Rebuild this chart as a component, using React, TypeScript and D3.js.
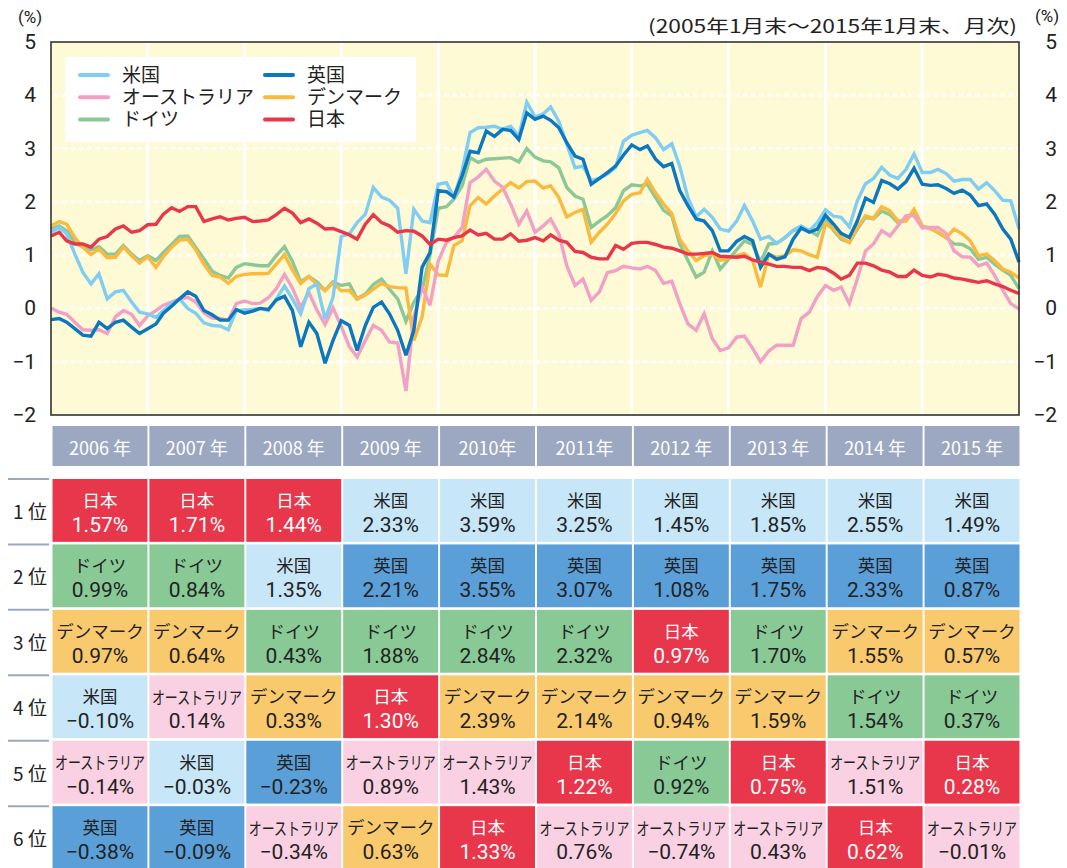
import React, { useEffect } from "react";
import * as d3 from "d3";

// monthly, 2005-01 .. 2015-01 (121 points)
const months = d3.timeMonth.range(new Date(2005, 0, 1), new Date(2015, 0, 2));

const usa = [
  1.43, 1.52, 1.40, 1.02, 0.68, 0.46, 0.65, 0.18, 0.31, 0.34, 0.12, -0.07,
  -0.10, -0.17, -0.04, 0.09, 0.18, 0.00, -0.09, -0.27, -0.32, -0.33, -0.40, -0.04,
  -0.03, -0.02, 0.00, -0.04, 0.18, 0.42, 0.18, -0.10, 0.37, 0.46, -0.20, 0.21,
  1.35, 1.40, 1.61, 1.77, 2.27, 2.09, 2.03, 1.88, 0.65, 1.86, 1.64, 1.61,
  2.33, 2.36, 2.08, 2.58, 3.30, 3.39, 3.40, 3.42, 3.36, 3.42, 3.23, 3.87,
  3.59, 3.65, 3.78, 3.51, 3.08, 2.64, 2.67, 2.40, 2.44, 2.52, 2.65, 3.14,
  3.25, 3.30, 3.34, 3.20, 2.98, 3.09, 2.67, 2.08, 1.72, 1.86, 1.71, 1.49,
  1.45, 1.64, 1.93, 1.64, 1.30, 1.35, 1.22, 1.33, 1.47, 1.55, 1.46, 1.61,
  1.85, 1.73, 1.71, 1.53, 2.02, 2.34, 2.44, 2.65, 2.50, 2.44, 2.61, 2.90,
  2.55, 2.55, 2.61, 2.53, 2.39, 2.42, 2.42, 2.24, 2.36, 2.21, 2.03, 2.02,
  1.49,
];
const uk = [
  -0.21, -0.19, -0.26, -0.38, -0.50, -0.52, -0.26, -0.38, -0.26, -0.22, -0.35, -0.47,
  -0.38, -0.29, -0.09, 0.04, 0.18, 0.31, 0.23, -0.04, -0.12, -0.22, -0.22, -0.02,
  -0.09, -0.05, 0.00, -0.02, 0.16, 0.23, -0.04, -0.72, -0.26, -0.47, -1.03, -0.60,
  -0.23, -0.32, -0.79, -0.32, 0.02, 0.12, -0.10, -0.41, -0.88, -0.41, 0.77, 1.05,
  2.21, 2.19, 2.09, 2.49, 2.95, 2.92, 3.33, 3.23, 3.36, 3.34, 3.17, 3.67,
  3.55, 3.61, 3.53, 3.39, 3.11, 2.86, 2.80, 2.33, 2.44, 2.55, 2.67, 2.88,
  3.07, 2.98, 3.05, 2.80, 2.66, 2.72, 2.21, 1.93, 1.68, 1.64, 1.46, 1.08,
  1.08, 1.26, 1.35, 1.27, 0.77, 1.02, 0.92, 0.97, 1.30, 1.51, 1.43, 1.49,
  1.75, 1.58, 1.41, 1.33, 1.64, 2.07, 1.99, 2.40, 2.34, 2.24, 2.38, 2.63,
  2.33, 2.31, 2.32, 2.25, 2.16, 2.22, 2.13, 1.93, 1.96, 1.77, 1.49, 1.30,
  0.87,
];
const australia = [
  0.01, -0.07, -0.11, -0.26, -0.40, -0.41, -0.40, -0.47, -0.16, -0.04, -0.11, -0.32,
  -0.14, -0.04, 0.06, 0.12, 0.18, 0.21, 0.12, -0.08, -0.18, -0.19, -0.22, 0.09,
  0.14, 0.09, 0.10, 0.20, 0.37, 0.64, 0.38, 0.02, 0.30, -0.03, -0.30, 0.01,
  -0.34, -0.72, -0.91, -0.60, -0.32, -0.41, -0.63, -0.65, -1.55, -0.16, 0.40, 0.06,
  0.89, 1.24, 1.33, 1.52, 2.36, 2.47, 2.61, 2.39, 2.27, 1.96, 1.58, 1.83,
  1.43, 1.55, 1.68, 1.40, 0.80, 0.43, 0.55, 0.15, 0.31, 0.67, 0.71, 0.79,
  0.76, 0.74, 0.79, 0.71, 0.47, 0.51, 0.09, -0.29, -0.41, -0.10, -0.57, -0.79,
  -0.74, -0.54, -0.52, -0.75, -1.00, -0.80, -0.69, -0.69, -0.69, -0.19, -0.07, 0.22,
  0.43, 0.34, 0.40, 0.09, 0.55, 1.08, 1.21, 1.46, 1.36, 1.55, 1.74, 1.74,
  1.51, 1.52, 1.52, 1.41, 1.08, 0.97, 0.96, 0.80, 0.85, 0.62, 0.34, 0.09,
  -0.01,
];
const denmark = [
  1.55, 1.63, 1.58, 1.33, 1.15, 1.01, 1.12, 0.95, 0.96, 1.15, 0.99, 0.85,
  0.97, 0.77, 0.97, 1.15, 1.28, 1.30, 1.10, 0.83, 0.62, 0.59, 0.47, 0.60,
  0.64, 0.65, 0.65, 0.66, 0.83, 1.01, 0.72, 0.47, 0.60, 0.45, 0.33, 0.48,
  0.33, 0.34, 0.17, 0.25, 0.36, 0.47, 0.41, 0.39, 0.38, -0.60, -0.16, 0.83,
  0.63, 0.62, 1.18, 1.27, 1.93, 2.08, 1.96, 2.11, 2.24, 2.36, 2.26, 2.38,
  2.39, 2.26, 2.30, 2.08, 1.72, 1.80, 1.86, 1.24, 1.43, 1.58, 1.78, 2.02,
  2.14, 2.17, 2.42, 2.17, 1.96, 1.78, 1.30, 1.08, 0.90, 0.99, 1.02, 0.90,
  0.94, 0.99, 1.03, 0.90, 0.40, 1.02, 0.96, 0.99, 1.10, 1.08, 1.01, 0.96,
  1.59, 1.49, 1.33, 1.24, 1.52, 1.74, 1.69, 1.91, 1.83, 1.64, 1.64, 1.86,
  1.55, 1.49, 1.43, 1.33, 1.49, 1.40, 1.27, 0.99, 1.02, 0.90, 0.74, 0.68,
  0.57,
];
const germany = [
  1.49, 1.55, 1.46, 1.24, 1.15, 1.10, 1.16, 1.02, 1.02, 1.18, 1.02, 0.90,
  0.99, 0.90, 1.05, 1.20, 1.35, 1.36, 1.15, 0.93, 0.70, 0.62, 0.57, 0.77,
  0.84, 0.82, 0.80, 0.80, 0.99, 1.16, 0.88, 0.50, 0.60, 0.50, 0.34, 0.50,
  0.43, 0.46, 0.18, 0.27, 0.45, 0.55, 0.36, 0.18, -0.24, 0.12, 0.35, 1.00,
  1.88, 1.91, 2.05, 2.30, 2.83, 2.74, 2.80, 2.81, 2.82, 2.83, 2.75, 3.00,
  2.84, 2.77, 2.75, 2.64, 2.27, 2.11, 2.05, 1.52, 1.64, 1.74, 1.89, 2.21,
  2.32, 2.30, 2.33, 2.08, 1.84, 1.74, 1.21, 0.90, 0.59, 0.68, 1.08, 0.74,
  0.92, 1.10, 1.27, 1.20, 0.87, 1.21, 1.22, 1.33, 1.46, 1.52, 1.46, 1.37,
  1.70, 1.46, 1.30, 1.24, 1.49, 1.71, 1.68, 1.83, 1.76, 1.61, 1.66, 1.82,
  1.54, 1.51, 1.43, 1.33, 1.21, 1.20, 1.12, 0.92, 0.96, 0.83, 0.72, 0.62,
  0.37,
];
const japan = [
  1.36, 1.43, 1.27, 1.21, 1.21, 1.15, 1.30, 1.35, 1.49, 1.55, 1.43, 1.46,
  1.57, 1.58, 1.77, 1.89, 1.82, 1.91, 1.91, 1.63, 1.68, 1.72, 1.66, 1.69,
  1.71, 1.63, 1.64, 1.66, 1.76, 1.88, 1.79, 1.61, 1.68, 1.60, 1.49, 1.50,
  1.44, 1.38, 1.30, 1.58, 1.76, 1.61, 1.55, 1.43, 1.46, 1.45, 1.36, 1.20,
  1.30, 1.28, 1.33, 1.36, 1.47, 1.38, 1.41, 1.30, 1.30, 1.40, 1.26, 1.28,
  1.33, 1.27, 1.38, 1.28, 1.24, 1.07, 1.05, 0.96, 0.93, 0.93, 1.18, 1.11,
  1.22, 1.24, 1.24, 1.20, 1.15, 1.13, 1.08, 1.02, 1.02, 1.03, 1.05, 0.98,
  0.97, 0.96, 0.98, 0.91, 0.87, 0.83, 0.79, 0.79, 0.77, 0.77, 0.71, 0.77,
  0.75, 0.66, 0.55, 0.62, 0.85, 0.85, 0.80, 0.72, 0.68, 0.60, 0.60, 0.72,
  0.62, 0.59, 0.64, 0.62, 0.57, 0.55, 0.52, 0.49, 0.52, 0.46, 0.41, 0.34,
  0.28,
];

const yTicks = [-2, -1, 0, 1, 2, 3, 4, 5];

// legend order (2 columns)
const legendItems = ["米国", "英国", "オーストラリア", "デンマーク", "ドイツ", "日本"];

// table
const yearLabels = ["2006 年", "2007 年", "2008 年", "2009 年", "2010年", "2011年", "2012 年", "2013 年", "2014 年", "2015 年"];
const rankLabels = ["1 位", "2 位", "3 位", "4 位", "5 位", "6 位"];
const rankNames = [
  ["日本", "日本", "日本", "米国", "米国", "米国", "米国", "米国", "米国", "米国"],
  ["ドイツ", "ドイツ", "米国", "英国", "英国", "英国", "英国", "英国", "英国", "英国"],
  ["デンマーク", "デンマーク", "ドイツ", "ドイツ", "ドイツ", "ドイツ", "日本", "ドイツ", "デンマーク", "デンマーク"],
  ["米国", "オーストラリア", "デンマーク", "日本", "デンマーク", "デンマーク", "デンマーク", "デンマーク", "ドイツ", "ドイツ"],
  ["オーストラリア", "米国", "英国", "オーストラリア", "オーストラリア", "日本", "ドイツ", "日本", "オーストラリア", "日本"],
  ["英国", "英国", "オーストラリア", "デンマーク", "日本", "オーストラリア", "オーストラリア", "オーストラリア", "日本", "オーストラリア"],
];
const rankValues = [
  [1.57, 1.71, 1.44, 2.33, 3.59, 3.25, 1.45, 1.85, 2.55, 1.49],
  [0.99, 0.84, 1.35, 2.21, 3.55, 3.07, 1.08, 1.75, 2.33, 0.87],
  [0.97, 0.64, 0.43, 1.88, 2.84, 2.32, 0.97, 1.70, 1.55, 0.57],
  [-0.10, 0.14, 0.33, 1.30, 2.39, 2.14, 0.94, 1.59, 1.54, 0.37],
  [-0.14, -0.03, -0.23, 0.89, 1.43, 1.22, 0.92, 0.75, 1.51, 0.28],
  [-0.38, -0.09, -0.34, 0.63, 1.33, 0.76, -0.74, 0.43, 0.62, -0.01],
];

const lineColor: Record<string, string> = {
  米国: "#7fcdf3",
  英国: "#0a77bf",
  オーストラリア: "#f2a0c6",
  デンマーク: "#fbb93d",
  ドイツ: "#8bc898",
  日本: "#e8374b",
};
const cellFill: Record<string, string> = {
  米国: "#c7e6f8",
  英国: "#5a9fd8",
  オーストラリア: "#f9d1e3",
  デンマーク: "#f9c96d",
  ドイツ: "#89c995",
  日本: "#e8364b",
};

const seriesData: Record<string, number[]> = {
  米国: usa, 英国: uk, オーストラリア: australia, デンマーク: denmark, ドイツ: germany, 日本: japan,
};
const drawOrder = ["ドイツ", "デンマーク", "オーストラリア", "米国", "英国", "日本"];

const FONT = '"Noto Sans CJK JP", "Noto Sans", sans-serif';
const NUM_FONT = 'Roboto, "Noto Sans", sans-serif';
// tighter line box for stacked labels; kana fall back to Noto CJK
const TIGHT_FONT = 'Roboto, "Noto Sans CJK JP", sans-serif';
const W = 1067, H = 868;
const plot = { left: 51, right: 1019, top: 42, bottom: 415 };

const fmt = (v: number) => (v < 0 ? "\u2212" : "") + Math.abs(v).toFixed(2) + "%";
const tick = (t: number) => (t < 0 ? "\u2212" + Math.abs(t) : String(t));

export default function App() {
  useEffect(() => {
    document.body.style.margin = "0";
  }, []);

  const x = d3.scaleTime()
    .domain([months[0], months[months.length - 1]])
    .range([plot.left, plot.right]);
  const y = d3.scaleLinear().domain([-2, 5]).range([plot.bottom, plot.top]);
  const line = d3.line<number>().x((_, i) => x(months[i])).y(d => y(d));
  const yearLines = d3.timeYear.range(new Date(2006, 0, 1), new Date(2015, 0, 1));

  const col = d3.scaleBand<string>().domain(yearLabels).range([52.5, 1019.5]).paddingInner(0.02);
  const row = d3.scaleBand<string>().domain(rankLabels).range([479, 869]).paddingInner(0.04);

  return (
    <svg width={W} height={H} style={{ display: "block", fontFamily: FONT }}>
      <rect width={W} height={H} fill="#fff" />

      {/* plot background */}
      <rect x={plot.left} y={plot.top} width={plot.right - plot.left} height={plot.bottom - plot.top} fill="#fffad6" />
      {yearLines.map((d, i) => (
        <line key={i} x1={x(d)} x2={x(d)} y1={plot.top} y2={plot.bottom} stroke="#fff" strokeWidth={3} />
      ))}
      {yTicks.filter(t => t > -2 && t < 5).map(t => (
        <line key={t} x1={plot.left + 3} x2={plot.right} y1={y(t)} y2={y(t)}
          stroke="#fff" strokeWidth={3} strokeDasharray="4.5 3.8" />
      ))}

      {/* legend box */}
      <rect x={65} y={57} width={351} height={85} fill="#fff" />
      {legendItems.map((name, i) => {
        const cx = i % 2 === 0 ? 80 : 265;
        const cy = 75 + Math.floor(i / 2) * 22.3;
        return (
          <g key={name}>
            <line x1={cx} x2={cx + 28} y1={cy} y2={cy} stroke={lineColor[name]} strokeWidth={4} strokeLinecap="round" />
            <text x={cx + 42} y={cy} dominantBaseline="central" fontSize={19} fill="#222"
              fontFamily={TIGHT_FONT}>{name}</text>
          </g>
        );
      })}

      {/* lines */}
      {drawOrder.map(name => (
        <path key={name} d={line(seriesData[name]) || ""} fill="none" stroke={lineColor[name]}
          strokeWidth={3.4} strokeLinejoin="miter" strokeMiterlimit={3} />
      ))}

      {/* frame */}
      <rect x={plot.left} y={plot.top} width={plot.right - plot.left} height={plot.bottom - plot.top}
        fill="none" stroke="#333" strokeWidth={1.6} />

      {/* y axes */}
      {yTicks.map(t => (
        <g key={t} fontSize={21} fill="#222" fontFamily={TIGHT_FONT}>
          <text x={36} y={y(t)} textAnchor="end" dominantBaseline="central">{tick(t)}</text>
          <text x={1057} y={y(t)} textAnchor="end" dominantBaseline="central">{tick(t)}</text>
        </g>
      ))}
      <text x={30} y={17} textAnchor="middle" dominantBaseline="central" fontSize={17} fill="#222"
        fontFamily={TIGHT_FONT}>(%)</text>
      <text x={1047} y={16} textAnchor="middle" dominantBaseline="central" fontSize={17} fill="#222"
        fontFamily={TIGHT_FONT}>(%)</text>
      <text x={1017} y={25} textAnchor="end" dominantBaseline="central" fontSize={18} fill="#222"
        textLength={369} lengthAdjust="spacingAndGlyphs">(2005年1月末～2015年1月末、月次)</text>

      {/* table header */}
      {yearLabels.map(lbl => (
        <g key={lbl}>
          <rect x={col(lbl)} y={426} width={col.bandwidth()} height={40} fill="#9ca8c2" />
          <text x={(col(lbl) || 0) + col.bandwidth() / 2} y={447} textAnchor="middle" dominantBaseline="central"
            fontSize={18} fill="#fff">{lbl}</text>
        </g>
      ))}

      {/* ranking rows */}
      {rankLabels.map((rl, r) => {
        const ry = row(rl) || 0;
        const rh = row.bandwidth();
        return (
          <g key={rl}>
            <line x1={8} x2={49} y1={ry} y2={ry} stroke="#9ca8c2" strokeWidth={2} />
            <text x={30} y={ry + rh / 2} textAnchor="middle" dominantBaseline="central" fontSize={19} fill="#222">{rl}</text>
            {yearLabels.map((yl, c) => {
              const name = rankNames[r][c];
              const cx = (col(yl) || 0) + col.bandwidth() / 2;
              const txt = name === "日本" ? "#fff" : "#222";
              // long katakana name is squeezed horizontally to fit the cell
              const sx = name.length > 5 ? 0.74 : 1;
              return (
                <g key={yl}>
                  <rect x={col(yl)} y={ry} width={col.bandwidth()} height={rh} fill={cellFill[name]} />
                  <text transform={`translate(${cx},${ry + 20.5}) scale(${sx},1)`} textAnchor="middle"
                    dominantBaseline="central" fontSize={17.5} fill={txt}>{name}</text>
                  <text x={cx} y={ry + 46} textAnchor="middle" dominantBaseline="central" fontSize={21}
                    fontFamily={NUM_FONT} fill={txt}>{fmt(rankValues[r][c])}</text>
                </g>
              );
            })}
          </g>
        );
      })}
    </svg>
  );
}
